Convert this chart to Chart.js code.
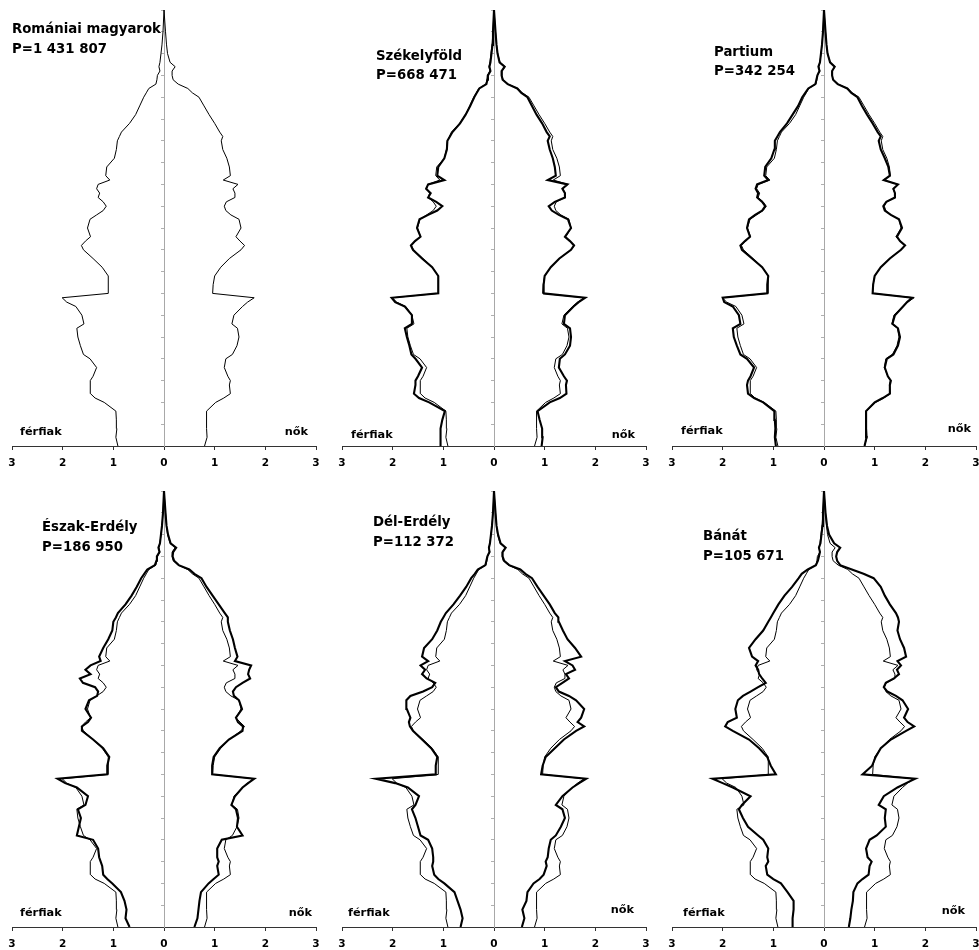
<!DOCTYPE html>
<html><head><meta charset="utf-8">
<script src="https://cdn.jsdelivr.net/npm/chart.js@4.4.1/dist/chart.umd.min.js"></script>
<style>
html,body{margin:0;padding:0;background:#fff;width:979px;height:950px;overflow:hidden;}
#wrap{position:relative;width:979px;height:950px;overflow:hidden;}
canvas{position:absolute;}
.lbl{position:absolute;font-family:"DejaVu Sans",Verdana,sans-serif;font-weight:bold;color:#000;line-height:1;white-space:nowrap;}
</style></head><body><div id="wrap"></div>
<script>
// Age (years) of each sampled point
const ages = [0,2,4,6,8,10,11,12,14,15,16,18,20,21,23,25,27,28,30,32,33,34,35,37,39,41,43,45,46,47,48,50,52,53,54,55,56,57,58,59,60,61,62,64,66,68,70,71,72,74,76,78,80,81,82,83,84,85,86,87,88,90,92,95,100];

// Share of population (%) by age - Romániai magyarok (all)
const romMale   = [0.91,0.95,0.93,0.94,0.95,1.18,1.36,1.45,1.45,1.46,1.40,1.33,1.46,1.59,1.65,1.70,1.72,1.58,1.62,1.74,1.92,2.01,1.10,1.10,1.10,1.22,1.40,1.59,1.63,1.55,1.45,1.51,1.46,1.33,1.20,1.14,1.20,1.30,1.27,1.33,1.30,1.07,1.15,1.13,0.98,0.94,0.92,0.88,0.84,0.68,0.56,0.48,0.40,0.35,0.30,0.16,0.14,0.13,0.08,0.10,0.08,0.06,0.04,0.02,0.00];
const romFemale = [0.80,0.85,0.84,0.84,0.84,1.02,1.18,1.31,1.29,1.31,1.26,1.19,1.22,1.35,1.44,1.48,1.45,1.34,1.38,1.55,1.65,1.78,0.96,0.97,1.00,1.12,1.29,1.52,1.59,1.50,1.42,1.52,1.48,1.32,1.22,1.19,1.23,1.40,1.40,1.36,1.46,1.17,1.31,1.29,1.24,1.16,1.13,1.16,1.10,1.00,0.89,0.79,0.69,0.56,0.47,0.28,0.18,0.16,0.16,0.22,0.12,0.07,0.05,0.03,0.00];

// Székelyföld
const szMale   = [1.05,1.06,1.05,1.02,0.97,1.28,1.48,1.58,1.55,1.55,1.50,1.42,1.55,1.63,1.67,1.72,1.76,1.62,1.62,1.76,1.95,2.02,1.10,1.10,1.10,1.22,1.42,1.60,1.64,1.56,1.45,1.52,1.47,1.30,1.12,1.02,1.14,1.30,1.25,1.34,1.30,0.98,1.12,1.10,0.98,0.93,0.92,0.87,0.82,0.67,0.56,0.47,0.39,0.34,0.29,0.15,0.13,0.12,0.07,0.09,0.07,0.05,0.03,0.02,0.00];
const szFemale = [0.94,0.96,0.95,0.90,0.86,1.10,1.30,1.43,1.42,1.44,1.38,1.28,1.30,1.40,1.50,1.52,1.50,1.38,1.40,1.57,1.67,1.80,0.97,0.98,1.00,1.12,1.29,1.52,1.58,1.50,1.40,1.52,1.46,1.28,1.14,1.08,1.20,1.40,1.40,1.35,1.45,1.06,1.22,1.20,1.16,1.10,1.06,1.10,1.04,0.95,0.84,0.75,0.66,0.54,0.46,0.27,0.17,0.15,0.15,0.21,0.11,0.07,0.05,0.03,0.00];

// Partium
const paMale   = [0.95,0.97,0.96,0.97,0.98,1.20,1.38,1.50,1.52,1.50,1.45,1.38,1.52,1.65,1.72,1.78,1.80,1.65,1.68,1.80,1.97,2.00,1.12,1.12,1.10,1.22,1.42,1.62,1.65,1.56,1.46,1.52,1.48,1.36,1.22,1.16,1.22,1.32,1.30,1.35,1.32,1.10,1.18,1.16,1.04,0.98,0.97,0.92,0.87,0.73,0.62,0.51,0.43,0.37,0.31,0.17,0.15,0.13,0.09,0.11,0.08,0.06,0.04,0.02,0.00];
const paFemale = [0.80,0.84,0.83,0.83,0.83,1.00,1.16,1.30,1.30,1.32,1.26,1.20,1.24,1.37,1.46,1.50,1.46,1.35,1.40,1.56,1.64,1.74,0.96,0.97,1.00,1.12,1.30,1.52,1.60,1.50,1.44,1.54,1.48,1.32,1.20,1.17,1.23,1.40,1.40,1.37,1.46,1.18,1.30,1.27,1.20,1.12,1.08,1.12,1.06,0.96,0.85,0.75,0.66,0.54,0.46,0.27,0.18,0.16,0.16,0.21,0.12,0.07,0.05,0.03,0.00];

// Észak-Erdély
const eeMale   = [0.68,0.76,0.74,0.78,0.85,1.02,1.12,1.20,1.22,1.25,1.28,1.30,1.40,1.72,1.68,1.64,1.70,1.55,1.50,1.72,1.95,2.10,1.12,1.12,1.08,1.20,1.40,1.62,1.62,1.50,1.44,1.55,1.48,1.32,1.30,1.36,1.60,1.66,1.45,1.55,1.45,1.25,1.28,1.20,1.10,1.02,1.00,0.95,0.91,0.76,0.64,0.54,0.45,0.39,0.33,0.18,0.15,0.14,0.09,0.11,0.08,0.06,0.04,0.02,0.00];
const eeFemale = [0.60,0.66,0.68,0.70,0.73,0.88,0.98,1.08,1.05,1.08,1.05,1.05,1.14,1.55,1.44,1.46,1.42,1.33,1.40,1.55,1.66,1.78,0.95,0.95,0.98,1.10,1.28,1.55,1.56,1.46,1.42,1.54,1.48,1.38,1.36,1.42,1.55,1.70,1.66,1.68,1.72,1.40,1.45,1.40,1.36,1.30,1.26,1.26,1.20,1.08,0.96,0.84,0.74,0.60,0.50,0.29,0.20,0.17,0.18,0.24,0.13,0.08,0.05,0.03,0.00];

// Dél-Erdély
const deMale   = [0.66,0.62,0.66,0.72,0.78,0.98,1.10,1.18,1.22,1.20,1.20,1.22,1.30,1.45,1.50,1.55,1.62,1.55,1.48,1.70,1.95,2.33,1.15,1.15,1.12,1.24,1.42,1.60,1.66,1.68,1.65,1.72,1.73,1.65,1.40,1.22,1.16,1.33,1.42,1.36,1.45,1.30,1.42,1.38,1.22,1.12,1.05,1.00,0.95,0.80,0.67,0.55,0.45,0.38,0.32,0.17,0.15,0.13,0.09,0.10,0.08,0.06,0.04,0.02,0.00];
const deFemale = [0.55,0.60,0.56,0.64,0.66,0.78,0.90,0.98,1.04,1.02,1.06,1.08,1.12,1.22,1.32,1.40,1.35,1.22,1.35,1.55,1.68,1.82,0.93,0.96,1.02,1.20,1.38,1.62,1.78,1.65,1.72,1.78,1.62,1.48,1.28,1.22,1.35,1.48,1.42,1.60,1.55,1.40,1.72,1.60,1.45,1.36,1.28,1.27,1.20,1.10,0.98,0.86,0.75,0.62,0.52,0.30,0.20,0.17,0.17,0.23,0.13,0.08,0.05,0.03,0.00];

// Bánát
const baMale   = [0.63,0.62,0.60,0.60,0.72,0.85,1.00,1.12,1.15,1.10,1.12,1.10,1.20,1.30,1.50,1.60,1.68,1.62,1.45,1.80,2.00,2.20,0.95,1.05,1.12,1.28,1.48,1.80,1.95,1.90,1.72,1.75,1.70,1.60,1.45,1.30,1.15,1.22,1.28,1.30,1.35,1.30,1.42,1.48,1.35,1.20,1.10,1.05,1.00,0.90,0.78,0.63,0.50,0.44,0.32,0.16,0.12,0.10,0.08,0.10,0.07,0.05,0.03,0.02,0.00];
const baFemale = [0.49,0.52,0.54,0.57,0.58,0.66,0.76,0.88,0.90,0.94,0.86,0.83,0.90,1.04,1.22,1.20,1.22,1.08,1.18,1.45,1.62,1.80,0.76,0.95,1.02,1.12,1.32,1.62,1.78,1.65,1.58,1.66,1.55,1.42,1.25,1.18,1.22,1.38,1.48,1.44,1.52,1.45,1.62,1.58,1.50,1.45,1.48,1.46,1.42,1.30,1.20,1.12,0.98,0.78,0.55,0.32,0.26,0.24,0.26,0.32,0.20,0.10,0.06,0.03,0.00];

// Axis ticks
const xTicks = [-3,-2,-1,0,1,2,3];
const maleLabel = 'férfiak';
const femaleLabel = 'nők';

const panels = [
  {name:'Romániai magyarok', pop:'P=1 431 807', male:null,   female:null,     col:0,row:0, tx:12,  tb:33.5,  fx:20,  fb:436,   nx:308, nb:436},
  {name:'Székelyföld',       pop:'P=668 471',   male:szMale, female:szFemale, col:1,row:0, tx:376, tb:60,    fx:351, fb:439,   nx:635, nb:439},
  {name:'Partium',           pop:'P=342 254',   male:paMale, female:paFemale, col:2,row:0, tx:714, tb:56,    fx:681, fb:435,   nx:971, nb:433},
  {name:'Észak-Erdély',      pop:'P=186 950',   male:eeMale, female:eeFemale, col:0,row:1, tx:42,  tb:531.5, fx:20,  fb:916.5, nx:312, nb:916.5},
  {name:'Dél-Erdély',        pop:'P=112 372',   male:deMale, female:deFemale, col:1,row:1, tx:373, tb:526.5, fx:348, fb:917,   nx:634, nb:914},
  {name:'Bánát',             pop:'P=105 671',   male:baMale, female:baFemale, col:2,row:1, tx:703, tb:540.5, fx:683, fb:917,   nx:965, nb:915}
];

const colLeft = [0, 330, 660], colWidth = 330, padLeft = 12, padRight = 14;
const rowTop = [0, 481], canvasH = 475, axisH = 29;

Chart.defaults.font.family = '"DejaVu Sans", Verdana, sans-serif';
const wrap = document.getElementById('wrap');

function addLabel(text, x, baseline, size, alignRight) {
  const d = document.createElement('div');
  d.className = 'lbl';
  d.textContent = text;
  d.style.fontSize = size + 'px';
  d.style.top = (baseline - size * 0.85) + 'px';
  d.style.left = x + 'px';
  if (alignRight) d.style.transform = 'translateX(-100%)';
  wrap.appendChild(d);
}

function pts(vals, sign) {
  return ages.map((a, i) => ({x: sign * vals[i], y: a}));
}

panels.forEach(p => {
  const cv = document.createElement('canvas');
  cv.width = colWidth; cv.height = canvasH;
  cv.style.left = colLeft[p.col] + 'px';
  cv.style.top = rowTop[p.row] + 'px';
  cv.style.width = colWidth + 'px';
  cv.style.height = canvasH + 'px';
  wrap.appendChild(cv);

  const thin = {borderColor:'#000', borderWidth:1, pointRadius:0, showLine:true, tension:0, fill:false};
  const thick = {borderColor:'#000', borderWidth:2.1, pointRadius:0, showLine:true, tension:0, fill:false};
  const datasets = [];
  if (p.male) {
    datasets.push(Object.assign({label:p.name + ' férfiak', data:pts(p.male, -1)}, thick));
    datasets.push(Object.assign({label:p.name + ' nők', data:pts(p.female, 1)}, thick));
  }
  datasets.push(Object.assign({label:'Romániai magyarok férfiak', data:pts(romMale, -1)}, thin));
  datasets.push(Object.assign({label:'Romániai magyarok nők', data:pts(romFemale, 1)}, thin));

  new Chart(cv, {
    type: 'scatter',
    data: {datasets},
    options: {
      responsive: false, animation: false, devicePixelRatio: 1,
      layout: {padding: {left: padLeft, right: padRight, top: 10, bottom: 0}},
      plugins: {legend: {display: false}, tooltip: {enabled: false}, title: {display: false}},
      scales: {
        x: {
          type: 'linear', min: -3, max: 3, position: 'bottom',
          afterBuildTicks: s => { s.ticks = xTicks.map(v => ({value: v})); },
          afterFit: s => { s.height = axisH; },
          ticks: {callback: v => String(Math.abs(v)), font: {size: 10.5, weight: 'bold'}, color: '#000', padding: 7, maxRotation: 0, autoSkip: false},
          grid: {drawOnChartArea: false, drawTicks: true, tickLength: 4, color: '#333'},
          border: {display: true, color: '#333', width: 1}
        },
        y: {
          type: 'linear', min: 0, max: 100, position: {x: 0},
          ticks: {display: false, stepSize: 5},
          grid: {drawOnChartArea: false, drawTicks: true, tickLength: 3, color: '#b0b0b0'},
          border: {display: true, color: '#a8a8a8', width: 1}
        }
      }
    }
  });

  addLabel(p.name, p.tx, p.tb, 13.3, false);
  addLabel(p.pop, p.tx, p.tb + 19.7, 13.3, false);
  addLabel(maleLabel, p.fx, p.fb, 11.3, false);
  addLabel(femaleLabel, p.nx, p.nb, 11.3, true);
});
</script></body></html>
